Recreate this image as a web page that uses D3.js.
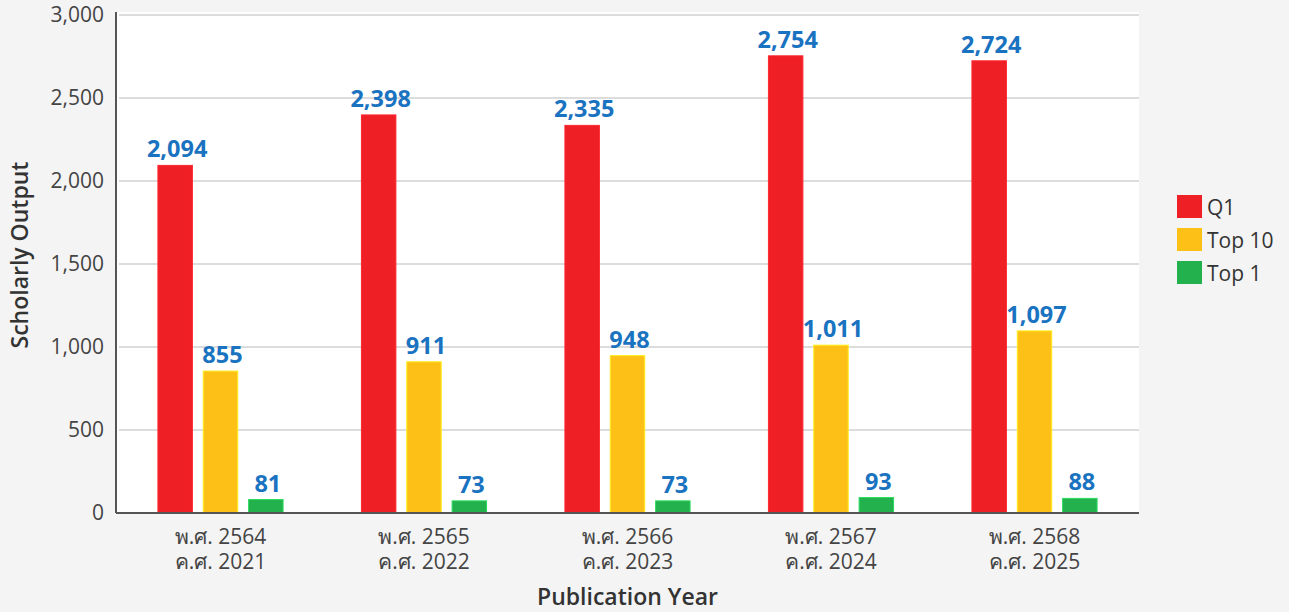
<!DOCTYPE html>
<html>
<head>
<meta charset="utf-8">
<script src="https://cdn.jsdelivr.net/npm/d3@7"></script>
<style>
  html, body { margin: 0; padding: 0; background: #f4f4f4; }
  svg { display: block; font-family: "Open Sans", "Noto Sans", sans-serif; }
</style>
</head>
<body>
<svg id="chart"></svg>
<script>
const width = 1289
const height = 612

// data
const yearsBE = ["พ.ศ. 2564", "พ.ศ. 2565", "พ.ศ. 2566", "พ.ศ. 2567", "พ.ศ. 2568"]
const yearsCE = ["ค.ศ. 2021", "ค.ศ. 2022", "ค.ศ. 2023", "ค.ศ. 2024", "ค.ศ. 2025"]
const seriesNames = ["Q1", "Top 10", "Top 1"]
const q1 = [2094, 2398, 2335, 2754, 2724]
const top10 = [855, 911, 948, 1011, 1097]
const top1 = [81, 73, 73, 93, 88]
const yTicks = [0, 500, 1000, 1500, 2000, 2500, 3000]

const colors = ["#ee1f25", "#fcc016", "#22b14c"]
const values = [q1, top10, top1]

const margin = { top: 15, right: 150, bottom: 99, left: 116 }
const plotRight = width - margin.right

const svg = d3.select("#chart")
              .attr("width", width)
              .attr("height", height)

const x0 = d3.scaleBand()
             .domain(yearsBE)
             .range([margin.left, plotRight])
             .paddingInner(0.385)
             .paddingOuter(0.206)

const x1 = d3.scaleBand()
             .domain(seriesNames)
             .range([0, x0.bandwidth()])
             .paddingInner(0.24)

const y = d3.scaleLinear()
            .domain([0, 3000])
            .range([height - margin.bottom, margin.top])

// plot background
svg.append("rect")
   .attr("x", margin.left)
   .attr("y", margin.top - 3)
   .attr("width", plotRight - margin.left)
   .attr("height", y(0) - margin.top + 3)
   .attr("fill", "#ffffff")

// grid lines
svg.append("g")
   .selectAll("line")
   .data(yTicks.filter(d => d > 0))
   .join("line")
     .attr("x1", margin.left + 3)
     .attr("x2", plotRight)
     .attr("y1", d => y(d))
     .attr("y2", d => y(d))
     .attr("stroke", "#dcdcdc")
     .attr("stroke-width", 2)

// y tick labels
svg.append("g")
   .selectAll("text")
   .data(yTicks)
   .join("text")
     .attr("x", margin.left - 12)
     .attr("y", d => y(d))
     .attr("dy", "0.35em")
     .attr("text-anchor", "end")
     .attr("font-size", 21)
     .attr("fill", "#444")
     .text(d => d3.format(",")(d))

// bars
const groups = svg.append("g")
                  .selectAll("g")
                  .data(yearsBE)
                  .join("g")
                  .attr("transform", d => `translate(${x0(d)},0)`)

const cells = groups.selectAll("g")
                    .data((d, i) => seriesNames.map((s, j) => ({ s, j, v: values[j][i] })))
                    .join("g")

cells.append("rect")
     .attr("x", d => x1(d.s))
     .attr("y", d => y(d.v))
     .attr("width", x1.bandwidth())
     .attr("height", d => y(0) - y(d.v))
     .attr("fill", d => colors[d.j])
     .attr("stroke", d => d3.color(colors[d.j]).brighter(0.6))
     .attr("stroke-width", 1)

cells.append("text")
     .attr("x", d => x1(d.s) + x1.bandwidth() / 2 + 2)
     .attr("y", d => y(d.v) - 8)
     .attr("text-anchor", "middle")
     .attr("font-size", 23.5)
     .attr("font-weight", "bold")
     .attr("fill", "#1a73c0")
     .text(d => d3.format(",")(d.v))

// axes lines
svg.append("line")
   .attr("x1", margin.left)
   .attr("x2", margin.left)
   .attr("y1", margin.top - 3)
   .attr("y2", y(0))
   .attr("stroke", "#555")
   .attr("stroke-width", 2)

svg.append("line")
   .attr("x1", margin.left)
   .attr("x2", plotRight)
   .attr("y1", y(0))
   .attr("y2", y(0))
   .attr("stroke", "#555")
   .attr("stroke-width", 2)

// x labels (two lines)
const xl = svg.append("g")
              .selectAll("text")
              .data(yearsBE)
              .join("text")
                .attr("text-anchor", "middle")
                .attr("font-size", 21)
                .attr("fill", "#444")

xl.append("tspan")
  .attr("x", d => x0(d) + x0.bandwidth() / 2)
  .attr("y", 544)
  .text(d => d)
xl.append("tspan")
  .attr("x", d => x0(d) + x0.bandwidth() / 2)
  .attr("y", 569)
  .text((d, i) => yearsCE[i])

// axis titles
svg.append("text")
   .attr("x", (margin.left + plotRight) / 2)
   .attr("y", 605)
   .attr("text-anchor", "middle")
   .attr("font-size", 23)
   .attr("font-weight", 600)
   .attr("fill", "#333")
   .text("Publication Year")

svg.append("text")
   .attr("transform", "translate(28,255) rotate(-90)")
   .attr("text-anchor", "middle")
   .attr("font-size", 23)
   .attr("font-weight", 600)
   .attr("fill", "#333")
   .text("Scholarly Output")

// legend
const legend = svg.append("g")
                  .selectAll("g")
                  .data(seriesNames)
                  .join("g")
                  .attr("transform", (d, i) => `translate(1177,${195 + i * 33})`)

legend.append("rect")
      .attr("width", 25)
      .attr("height", 23)
      .attr("fill", (d, i) => colors[i])

legend.append("text")
      .attr("x", 30)
      .attr("y", 13)
      .attr("dy", "0.35em")
      .attr("font-size", 21)
      .attr("fill", "#333")
      .text(d => d)
</script>
</body>
</html>
